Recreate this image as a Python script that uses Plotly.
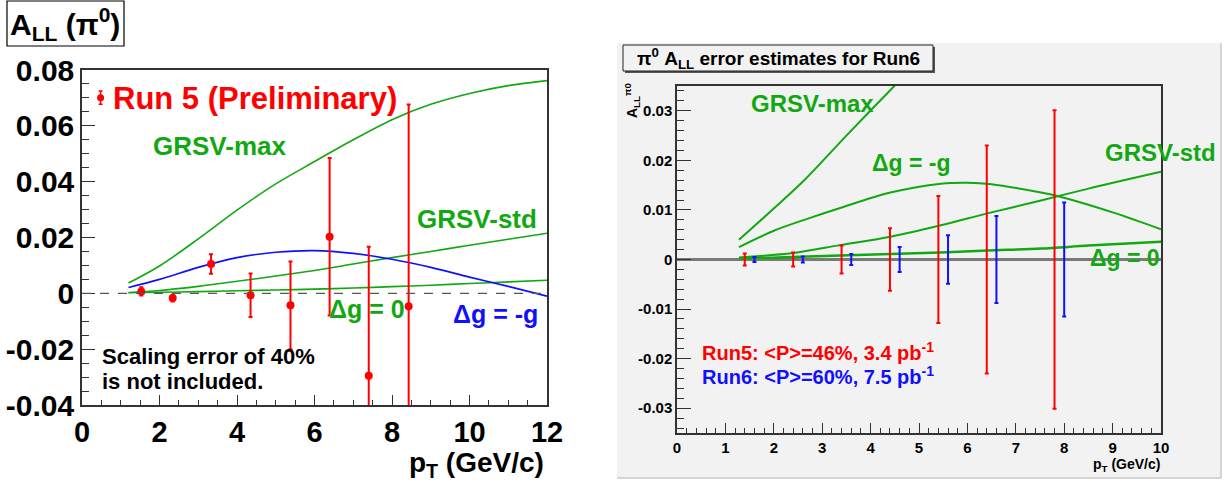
import plotly.graph_objects as go

# ---------------- data: left panel (Run 5 preliminary) ----------------
run5_pt = [1.53, 2.34, 3.33, 4.35, 5.38, 6.39, 7.40, 8.43]
run5_all = [0.0007, -0.0017, 0.0105, -0.0007, -0.0043, 0.0203, -0.0295, -0.0046]
run5_err = [0.0015, 0.0012, 0.0035, 0.0078, 0.0157, 0.0282, 0.0462, 0.0722]

legend_pt = [0.48]
legend_all = [0.0701]
legend_err = [0.0024]

curve_pt_left = [1.2, 2, 3, 4, 5, 6, 7, 8, 9, 10, 11, 12]
grsv_max_left = [0.0037, 0.0098, 0.0195, 0.0298, 0.0392, 0.0472, 0.0550, 0.0622, 0.0677, 0.0716, 0.0744, 0.0762]
grsv_std_left = [0.0003, 0.0010, 0.0025, 0.0043, 0.0062, 0.0082, 0.0105, 0.0128, 0.0150, 0.0172, 0.0194, 0.0215]
dg0_left = [0.0002, 0.0004, 0.0006, 0.0009, 0.0012, 0.0015, 0.0019, 0.0024, 0.0029, 0.0035, 0.0041, 0.0047]
dgmg_left = [0.0021, 0.0050, 0.0093, 0.0128, 0.0147, 0.0153, 0.0143, 0.0122, 0.0093, 0.0058, 0.0025, -0.0010]

left_xticks = [0, 2, 4, 6, 8, 10, 12]
left_xtext = ["0", "2", "4", "6", "8", "10", "12"]
left_yticks = [-0.04, -0.02, 0, 0.02, 0.04, 0.06, 0.08]
left_ytext = ["-0.04", "-0.02", "0", "0.02", "0.04", "0.06", "0.08"]

# ---------------- data: right panel (Run 6 projections) ----------------
run5_proj_pt = [1.4, 2.4, 3.4, 4.4, 5.4, 6.4, 7.8]
run5_proj_err = [0.0012, 0.0014, 0.0028, 0.0063, 0.0128, 0.0230, 0.0301]
run6_proj_pt = [1.6, 2.6, 3.6, 4.6, 5.6, 6.6, 8.0]
run6_proj_err = [0.0005, 0.0006, 0.0011, 0.0025, 0.0049, 0.0088, 0.0115]
zero5 = [0, 0, 0, 0, 0, 0, 0]
zero6 = [0, 0, 0, 0, 0, 0, 0]

max_pt_right = [1.28, 2.0, 2.65, 3.52, 4.49, 5.0]
grsv_max_right = [0.0040, 0.0103, 0.0162, 0.0252, 0.0350, 0.0400]
curve_pt_right = [1.28, 2.4, 3.37, 4.41, 5.45, 6.41, 7.52, 8.5, 10.0]
grsv_std_right = [0.0004, 0.0013, 0.0029, 0.0046, 0.0069, 0.0093, 0.0119, 0.0143, 0.0177]
dg0_right = [0.0002, 0.0005, 0.0008, 0.0011, 0.0014, 0.0018, 0.0022, 0.0028, 0.0036]
dgmg_pt_right = [1.28, 2.0, 2.69, 3.37, 4.41, 5.45, 6.0, 6.5, 7.52, 7.86, 9.0, 10.0]
dgmg_right = [0.0025, 0.0058, 0.0082, 0.0104, 0.0135, 0.0153, 0.0155, 0.0152, 0.0135, 0.0128, 0.0095, 0.0061]

right_xticks = [0, 1, 2, 3, 4, 5, 6, 7, 8, 9, 10]
right_xtext = ["0", "1", "2", "3", "4", "5", "6", "7", "8", "9", "10"]
right_yticks = [-0.03, -0.02, -0.01, 0, 0.01, 0.02, 0.03]
right_ytext = ["-0.03", "-0.02", "-0.01", "0", "0.01", "0.02", "0.03"]

# ---------------- styling helpers ----------------
W, H = 1227, 481
FONT = "Liberation Sans, Arial, Helvetica, sans-serif"
RED = "#ff0000"
GREEN = "#12a812"
BLUE = "#1010ff"
AX = "#333333"


def fx(p):
    return p / W


def fy(p):
    return 1 - p / H


fig = go.Figure()
SM = 0.9

# ---- left panel traces ----
for ys in (grsv_max_left, grsv_std_left, dg0_left):
    fig.add_trace(go.Scatter(x=curve_pt_left, y=ys, mode="lines",
                             line=dict(color=GREEN, width=1.6, shape="spline", smoothing=SM),
                             xaxis="x", yaxis="y", showlegend=False, hoverinfo="skip"))
fig.add_trace(go.Scatter(x=curve_pt_left, y=dgmg_left, mode="lines",
                         line=dict(color=BLUE, width=1.6, shape="spline", smoothing=SM),
                         xaxis="x", yaxis="y", showlegend=False, hoverinfo="skip"))
fig.add_trace(go.Scatter(x=run5_pt, y=run5_all, mode="markers", marker=dict(color=RED, size=8),
                         error_y=dict(type="data", array=run5_err, color=RED, thickness=2, width=2),
                         xaxis="x", yaxis="y", showlegend=False))
fig.add_trace(go.Scatter(x=legend_pt, y=legend_all, mode="markers", marker=dict(color=RED, size=7),
                         error_y=dict(type="data", array=legend_err, color=RED, thickness=1.5, width=2),
                         xaxis="x", yaxis="y", showlegend=False))

# ---- right panel traces ----
fig.add_trace(go.Scatter(x=max_pt_right, y=grsv_max_right, mode="lines",
                         line=dict(color=GREEN, width=2, shape="spline", smoothing=SM),
                         xaxis="x2", yaxis="y2", showlegend=False, hoverinfo="skip"))
fig.add_trace(go.Scatter(x=curve_pt_right, y=grsv_std_right, mode="lines",
                         line=dict(color=GREEN, width=2, shape="spline", smoothing=SM),
                         xaxis="x2", yaxis="y2", showlegend=False, hoverinfo="skip"))
fig.add_trace(go.Scatter(x=curve_pt_right, y=dg0_right, mode="lines",
                         line=dict(color=GREEN, width=2.5, shape="spline", smoothing=SM),
                         xaxis="x2", yaxis="y2", showlegend=False, hoverinfo="skip"))
fig.add_trace(go.Scatter(x=dgmg_pt_right, y=dgmg_right, mode="lines",
                         line=dict(color=GREEN, width=2, shape="spline", smoothing=SM),
                         xaxis="x2", yaxis="y2", showlegend=False, hoverinfo="skip"))
fig.add_trace(go.Scatter(x=run5_proj_pt, y=zero5, mode="markers", marker=dict(color="rgba(0,0,0,0)", size=1),
                         error_y=dict(type="data", array=run5_proj_err, color=RED, thickness=2, width=2),
                         xaxis="x2", yaxis="y2", showlegend=False))
fig.add_trace(go.Scatter(x=run6_proj_pt, y=zero6, mode="markers", marker=dict(color="rgba(0,0,0,0)", size=1),
                         error_y=dict(type="data", array=run6_proj_err, color=BLUE, thickness=2, width=2),
                         xaxis="x2", yaxis="y2", showlegend=False))

# ---------------- axes ----------------
left_x_dom = [fx(82), fx(547)]
left_y_dom = [fy(405), fy(70)]
right_x_dom = [fx(677), fx(1161)]
right_y_dom = [fy(433), fy(86)]

common = dict(showgrid=False, showline=True, linecolor=AX, linewidth=1.5, mirror=True,
              ticks="inside", tickcolor=AX, automargin=False)

fig.update_layout(
    xaxis=dict(domain=left_x_dom, range=[0, 12], anchor="y", tickvals=left_xticks, ticktext=left_xtext,
               ticklen=10, tickwidth=1.2, zeroline=False,
               minor=dict(ticks="inside", dtick=0.5, ticklen=5, tickcolor=AX, tickwidth=1),
               tickfont=dict(family=FONT, size=29, color="black", weight="bold"), **common),
    yaxis=dict(domain=left_y_dom, range=[-0.04, 0.08], anchor="x", tickvals=left_yticks, ticktext=left_ytext,
               ticklen=13, tickwidth=1.2, zeroline=False,
               minor=dict(ticks="inside", dtick=0.005, ticklen=7, tickcolor=AX, tickwidth=1),
               tickfont=dict(family=FONT, size=30, color="black", weight="bold"), **common),
    xaxis2=dict(domain=right_x_dom, range=[0, 10], anchor="y2", tickvals=right_xticks, ticktext=right_xtext,
                ticklen=10, tickwidth=1.2, zeroline=False,
                minor=dict(ticks="inside", dtick=0.2, ticklen=5, tickcolor=AX, tickwidth=1),
                tickfont=dict(family=FONT, size=15, color="black", weight="bold"), **common),
    yaxis2=dict(domain=right_y_dom, range=[-0.035, 0.035], anchor="x2", tickvals=right_yticks, ticktext=right_ytext,
                ticklen=14, tickwidth=1.2,
                minor=dict(ticks="inside", dtick=0.002, ticklen=7, tickcolor=AX, tickwidth=1),
                tickfont=dict(family=FONT, size=15, color="black", weight="bold"),
                zeroline=True, zerolinecolor="#7a7a7a", zerolinewidth=2.5, **common),
    width=W, height=H, margin=dict(l=0, r=0, t=0, b=0, autoexpand=False),
    paper_bgcolor="white", plot_bgcolor="rgba(0,0,0,0)",
    showlegend=False,
)

# ---------------- shapes ----------------
shapes = [
    # right panel gray canvas
    dict(type="rect", xref="paper", yref="paper", x0=fx(617), x1=fx(1221), y0=fy(478), y1=fy(43),
         fillcolor="#f2f2f2", line=dict(width=0), layer="below"),
    dict(type="line", xref="paper", yref="paper", x0=fx(1221), x1=fx(1221), y0=fy(478), y1=fy(43),
         line=dict(color="#c8c8c8", width=1.5), layer="below"),
    dict(type="line", xref="paper", yref="paper", x0=fx(617), x1=fx(1221), y0=fy(478), y1=fy(478),
         line=dict(color="#c8c8c8", width=1.5), layer="below"),
    # left dashed zero line
    dict(type="line", xref="x domain", yref="y", x0=0, x1=1, y0=0, y1=0,
         line=dict(color="#555555", width=1.2, dash="dash")),
    # left title box
    dict(type="rect", xref="paper", yref="paper", x0=fx(7), x1=fx(124), y0=fy(46), y1=fy(1),
         fillcolor="white", line=dict(color="black", width=1.2)),
    # right title box with shadow
    dict(type="rect", xref="paper", yref="paper", x0=fx(625), x1=fx(935), y0=fy(73), y1=fy(47),
         fillcolor="#555555", line=dict(width=0)),
    dict(type="rect", xref="paper", yref="paper", x0=fx(623), x1=fx(933), y0=fy(71), y1=fy(45),
         fillcolor="#f2f2f2", line=dict(color="#222222", width=1)),
]
fig.update_layout(shapes=shapes)


# ---------------- annotations ----------------
def ann(text, x, y, size, color="black", xanchor="left", angle=0):
    return dict(text=text, x=fx(x), y=fy(y), xref="paper", yref="paper", xanchor=xanchor, yanchor="middle",
                showarrow=False, textangle=angle, font=dict(family=FONT, size=size, color=color, weight="bold"))


annotations = [
    ann("A<sub>LL</sub> (π<sup>0</sup>)", 65, 24, 30, xanchor="center"),
    ann("Run 5 (Preliminary)", 111, 98, 31, RED),
    ann("GRSV-max", 151, 146, 26, GREEN),
    ann("GRSV-std", 415, 219, 26, GREEN),
    ann("Δg = 0", 327, 309, 25, GREEN),
    ann("Δg = -g", 451, 314, 25, BLUE),
    ann("Scaling error of 40%", 100, 356, 22),
    ann("is not included.", 100, 381, 22),
    ann("p<sub>T</sub> (GeV/c)", 546, 464, 28, xanchor="right"),
    # right panel
    ann("π<sup>0</sup> A<sub>LL</sub> error estimates for Run6", 778, 58, 19, xanchor="center"),
    ann("A<sub>LL</sub><sup>π0</sup>", 632, 100, 14, xanchor="center", angle=-90),
    ann("GRSV-max", 749, 103, 24, GREEN),
    ann("Δg = -g", 870, 163, 23, GREEN),
    ann("GRSV-std", 1103, 153, 24, GREEN),
    ann("Δg = 0", 1088, 258, 23, GREEN),
    ann("Run5: <P>=46%, 3.4 pb<sup>-1</sup>", 700, 351, 20, RED),
    ann("Run6: <P>=60%, 7.5 pb<sup>-1</sup>", 700, 375, 20, BLUE),
    ann("p<sub>T</sub> (GeV/c)", 1162, 465, 14, xanchor="right"),
]
fig.update_layout(annotations=annotations)

fig.write_html("out.html", config={"displayModeBar": False},
               post_script="document.body.style.margin='0';document.body.style.padding='0';")
